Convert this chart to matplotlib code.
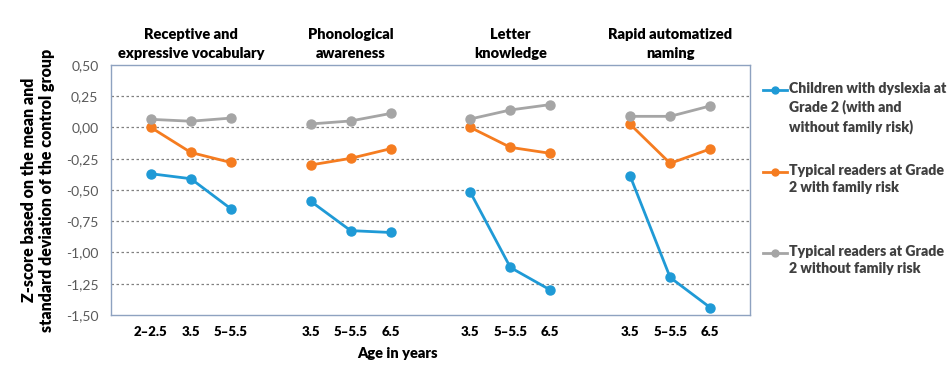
import numpy as np
import matplotlib.pyplot as plt
from matplotlib.lines import Line2D

plt.rcParams['font.family'] = ['Lato', 'DejaVu Sans']

# groups of measures and the ages at which they were assessed
domains = ['Receptive and\nexpressive vocabulary', 'Phonological\nawareness',
           'Letter\nknowledge', 'Rapid automatized\nnaming']
ages = [['2\u20132.5', '3.5', '5\u20135.5'],
        ['3.5', '5\u20135.5', '6.5'],
        ['3.5', '5\u20135.5', '6.5'],
        ['3.5', '5\u20135.5', '6.5']]

# z-scores per group (3 ages each)
dyslexia = [[-0.37, -0.41, -0.65],
            [-0.59, -0.825, -0.84],
            [-0.52, -1.12, -1.30],
            [-0.39, -1.20, -1.44]]
typical_fr = [[0.0, -0.20, -0.28],
              [-0.30, -0.247, -0.17],
              [0.0, -0.159, -0.207],
              [0.025, -0.287, -0.172]]
typical_nofr = [[0.065, 0.05, 0.075],
                [0.028, 0.052, 0.112],
                [0.068, 0.14, 0.183],
                [0.089, 0.089, 0.172]]

labels = ['Children with dyslexia at\nGrade 2 (with and\nwithout family risk)',
          'Typical readers at Grade\n2 with family risk',
          'Typical readers at Grade\n2 without family risk']
colors = ['#1F9AD6', '#F57C20', '#A5A5A5']

fig = plt.figure(figsize=(9.51, 3.68), dpi=100)
ax = fig.add_axes([0.1167, 0.144, 0.672, 0.6795])

xticks = []
xlabels = []
for g in range(4):
    x = np.arange(3) + 4 * g
    xticks += list(x)
    xlabels += ages[g]
    for series, c in zip([dyslexia, typical_fr, typical_nofr], colors):
        ax.plot(x, series[g], color=c, lw=2.0, marker='o', ms=6.5, zorder=3)
    ax.text(x[1], 1.02, domains[g], transform=ax.get_xaxis_transform(),
            ha='center', va='bottom', fontsize=10.5, fontweight='heavy',
            linespacing=1.5, color='black')

ax.set_xlim(-1, 15)
ax.set_ylim(-1.5, 0.5)
ax.set_xticks(xticks)
ax.set_xticklabels(xlabels, fontsize=9.5, fontweight='heavy')
ax.tick_params(axis='x', length=0, pad=8)
yt = np.arange(-1.5, 0.51, 0.25)
ax.set_yticks(yt)
ax.set_yticklabels([f'{v:.2f}'.replace('.', ',') for v in yt],
                   fontsize=10, color='#595959')
ax.tick_params(axis='y', length=0, pad=9)
for v in yt[1:-1]:
    ax.axhline(v, color='#808080', lw=0.9, ls=(0, (2, 2)), zorder=1)
for s in ax.spines.values():
    s.set_color('#8EA2C0')
    s.set_linewidth(1.0)

ax.set_ylabel('Z-score based on the mean and\nstandard deviation of the control group',
              fontsize=11.5, fontweight='heavy', labelpad=8, linespacing=1.15)
fig.text(397 / 951, 1 - 353 / 368, 'Age in years', ha='center', va='center',
         fontsize=10.5, fontweight='heavy')

# legend drawn by hand so the marker sits on the first line of text
leg_y = [90, 172, 253]
for lab, c, yp in zip(labels, colors, leg_y):
    fy = 1 - yp / 368
    fig.add_artist(Line2D([763 / 951, 787 / 951], [fy, fy], color=c, lw=2.0,
                          transform=fig.transFigure))
    fig.add_artist(Line2D([775 / 951], [fy], color=c, marker='o', ms=5,
                          transform=fig.transFigure))
    fig.text(789 / 951, fy + 8 / 368, lab, ha='left', va='top', fontsize=10.2,
             fontweight='heavy', color='#404040', linespacing=1.4)

fig.savefig('out.png', dpi=100)
